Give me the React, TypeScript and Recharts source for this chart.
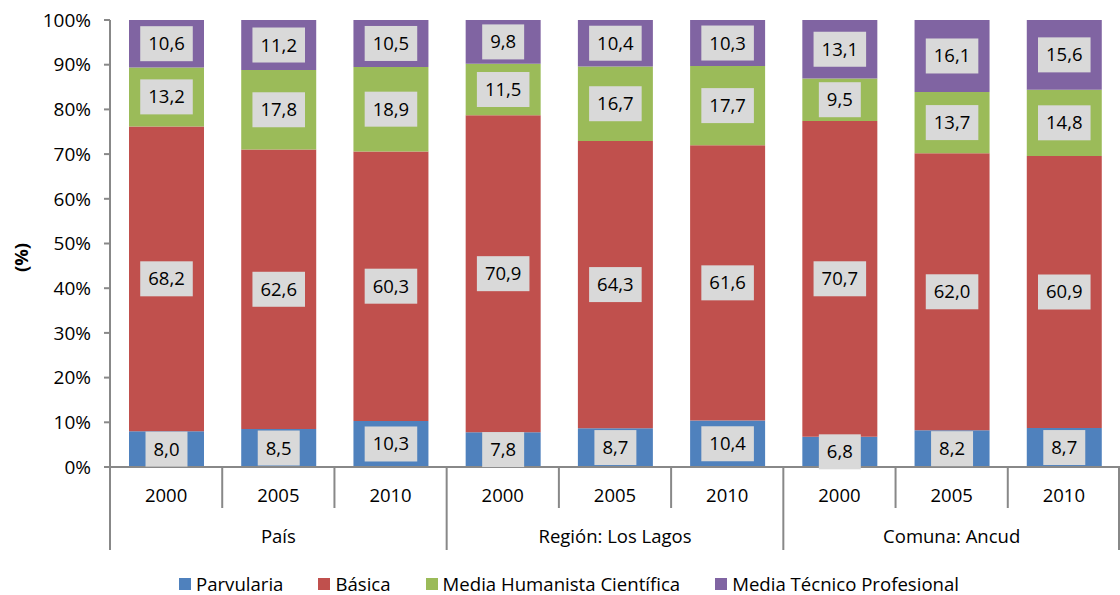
import React from 'react';
import { BarChart, Bar, XAxis, YAxis, Legend, LabelList } from 'recharts';

const years = ['2000', '2005', '2010', '2000', '2005', '2010', '2000', '2005', '2010'];
const groups = ['País', 'Región: Los Lagos', 'Comuna: Ancud'];
const parvularia = [8.0, 8.5, 10.3, 7.8, 8.7, 10.4, 6.8, 8.2, 8.7];
const basica = [68.2, 62.6, 60.3, 70.9, 64.3, 61.6, 70.7, 62.0, 60.9];
const mediaHC = [13.2, 17.8, 18.9, 11.5, 16.7, 17.7, 9.5, 13.7, 14.8];
const mediaTP = [10.6, 11.2, 10.5, 9.8, 10.4, 10.3, 13.1, 16.1, 15.6];
const yTicks = [0, 0.1, 0.2, 0.3, 0.4, 0.5, 0.6, 0.7, 0.8, 0.9, 1];

const seriesNames = ['Parvularia', 'Básica', 'Media Humanista Científica', 'Media Técnico Profesional'];
const seriesKeys = ['parvularia', 'basica', 'mediaHC', 'mediaTP'];
const colors = ['#4F81BD', '#C0504D', '#9BBB59', '#8064A2'];

const data = years.map((y, i) => ({
  idx: i,
  year: y,
  parvularia: parvularia[i],
  basica: basica[i],
  mediaHC: mediaHC[i],
  mediaTP: mediaTP[i],
}));

const FONT = "'Open Sans', sans-serif";
const W = 1120;
const H = 595;
const LEFT = 110;
const PLOT_W = W - LEFT;
const BAND = PLOT_W / years.length;
const AXIS_COLOR = '#888888';

const fmt = (v: number) => v.toFixed(1).replace('.', ',');

const ValueLabel = (props: any) => {
  const { x, y, width, height, value } = props;
  const text = fmt(Number(value));
  const fs = 18.5;
  const digits = text.replace(',', '').length;
  const tw = digits * 0.572 * fs + 0.26 * fs;
  const bw = tw + 16;
  const bh = 35;
  const cx = x + width / 2;
  const cy = y + height / 2;
  return (
    <g>
      <rect x={cx - bw / 2} y={cy - bh / 2} width={bw} height={bh} fill="#D9D9D9" />
      <text x={cx} y={cy + 6.5} textAnchor="middle" fontFamily={FONT} fontSize={fs} fill="#000">
        {text}
      </text>
    </g>
  );
};

const XTick = (props: any) => {
  const { x, y, payload } = props;
  const i = payload.index ?? 0;
  const left = x - BAND / 2;
  const isGroupStart = i % 3 === 0;
  const els: any[] = [];
  els.push(
    <line key="s" x1={left} y1={y} x2={left} y2={isGroupStart ? y + 83 : y + 41} stroke={AXIS_COLOR} strokeWidth={2} />
  );
  if (i === years.length - 1) {
    els.push(<line key="e" x1={x + BAND / 2 - 1} y1={y} x2={x + BAND / 2 - 1} y2={y + 83} stroke={AXIS_COLOR} strokeWidth={2} />);
  }
  els.push(
    <text key="t" x={x} y={y + 35} textAnchor="middle" fontFamily={FONT} fontSize={18.5} fill="#000">
      {years[i]}
    </text>
  );
  if (i % 3 === 1) {
    els.push(
      <text key="g" x={x} y={y + 76} textAnchor="middle" fontFamily={FONT} fontSize={18.5} fill="#000">
        {groups[Math.floor(i / 3)]}
      </text>
    );
  }
  return <g>{els}</g>;
};

const LegendContent = () => (
  <div style={{ display: 'flex', justifyContent: 'center', alignItems: 'center', fontFamily: FONT, fontSize: 18.6, color: '#000', paddingTop: 19, paddingLeft: 18 }}>
    {seriesNames.map((n, i) => (
      <div key={n} style={{ display: 'flex', alignItems: 'center', marginLeft: i === 0 ? 0 : 35 }}>
        <span style={{ display: 'inline-block', width: 12, height: 12, background: colors[i], marginRight: 5 }} />
        <span>{n}</span>
      </div>
    ))}
  </div>
);

export default function App() {
  return (
    <div style={{ position: 'absolute', left: 0, top: 0, width: W, height: H, background: '#fff' }}>
      <BarChart
        width={W}
        height={H}
        data={data}
        stackOffset="expand"
        margin={{ top: 20, right: 0, left: 0, bottom: 0 }}
        barSize={75}
      >
        <XAxis
          dataKey="idx"
          type="category"
          interval={0}
          height={85}
          tickSize={0}
          tickMargin={0}
          tickLine={false}
          axisLine={{ stroke: AXIS_COLOR, strokeWidth: 2 }}
          tick={<XTick />}
        />
        <YAxis
          width={LEFT}
          domain={[0, 1]}
          ticks={yTicks}
          interval={0}
          tickFormatter={(v: number) => `${Math.round(v * 100)}%`}
          tickSize={6}
          tickMargin={13}
          tickLine={{ stroke: AXIS_COLOR, strokeWidth: 2 }}
          axisLine={{ stroke: AXIS_COLOR, strokeWidth: 2 }}
          tick={{ fill: '#000', fontFamily: FONT, fontSize: 19 }}
          label={{
            content: (p: any) => {
              const vb = p.viewBox || { x: 0, y: 20, width: LEFT, height: 447 };
              return (
                <text
                  x={vb.x + 28}
                  y={vb.y + vb.height / 2 + 14}
                  transform={`rotate(-90 ${vb.x + 28} ${vb.y + vb.height / 2 + 14})`}
                  textAnchor="middle"
                  fontFamily={FONT}
                  fontSize={18.5}
                  fontWeight="bold"
                  fill="#000"
                >
                  (%)
                </text>
              );
            },
          }}
        />
        <Legend verticalAlign="bottom" height={43} content={<LegendContent />} />
        {seriesKeys.map((k, i) => (
          <Bar key={k} dataKey={k} name={seriesNames[i]} stackId="a" fill={colors[i]} isAnimationActive={false}>
            <LabelList dataKey={k} content={<ValueLabel />} />
          </Bar>
        ))}
      </BarChart>
    </div>
  );
}
